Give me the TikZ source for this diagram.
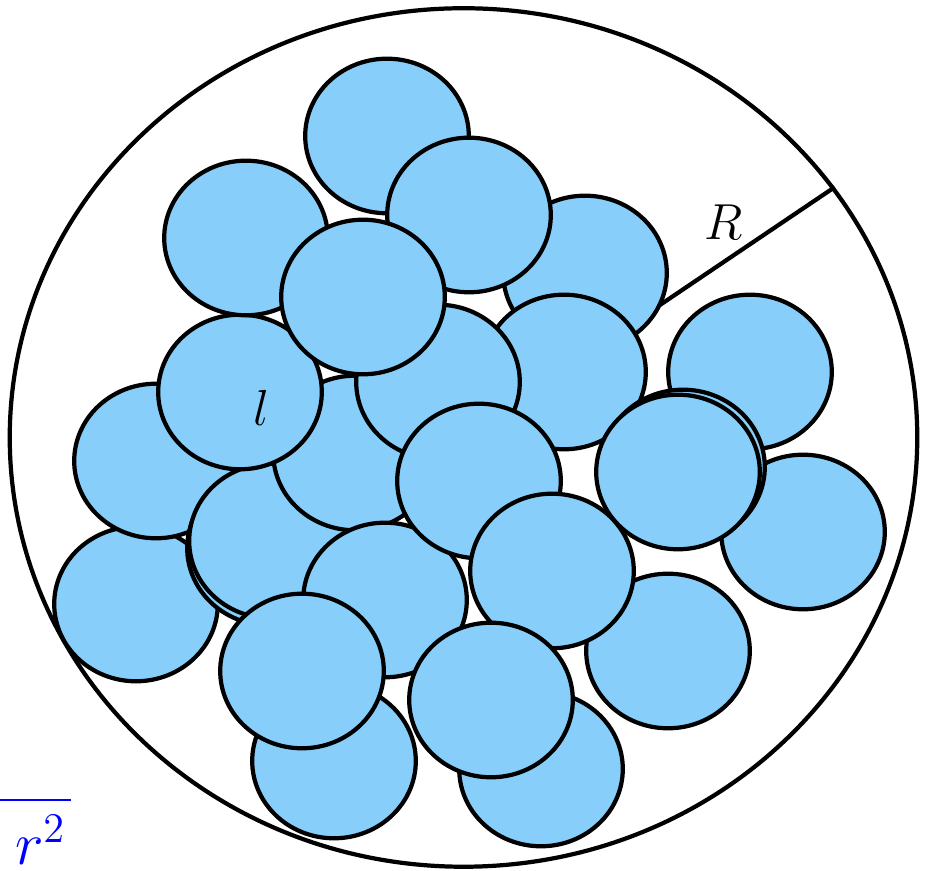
\documentclass[tikz,border=0pt]{standalone}
\usetikzlibrary{shapes.geometric}
\definecolor{ballcol}{RGB}{135,206,250}

\begin{document}
\begin{tikzpicture}[
  x=0.01cm, y=-0.01cm, line width=1.2pt,
  ball/.style={ellipse,draw,fill=ballcol,minimum width=1.635cm,minimum height=1.545cm,inner sep=0pt},
  lab/.style={font=\fontsize{15.6}{19}\selectfont,inner sep=0pt},
]
\useasboundingbox (0,0) rectangle (930,871);
% --- container and its radius ---
\node[ellipse,draw,minimum width=9.07cm,minimum height=8.58cm,inner sep=0pt] (vessel) at (463.5,437.5) {};
\draw (vessel.center) -- (vessel.34);
\node[lab] (rlab) at (724,222) {$R$};

% --- packed spheres, back to front ---
\foreach \x/\y [count=\i] in {136/604, 156/461, 269/548, 271/541, 355/453, 240/392,
    246/238, 387/136, 585/273, 469/215, 564/372, 438/382, 363/297,
    385/600, 479/481, 668/651, 552/571, 334/761, 302/671, 541/769, 491/700,
    750/372, 803/532, 683/467, 678/472}
  \node[ball] (s\i) at (\x,\y) {};
\node[lab] (llab) at (261,408) {$l$};

% --- fraction cut by the page edge ---
\node[blue,font=\fontsize{17.3}{21}\selectfont,anchor=base east,inner sep=0pt] (den) at (68,865) {$r^2$};
\coordinate (barL) at (0,800);
\draw[blue,line width=0.8pt] (barL) -- ([xshift=0.03cm]barL -| den.east);
\end{tikzpicture}
\end{document}
